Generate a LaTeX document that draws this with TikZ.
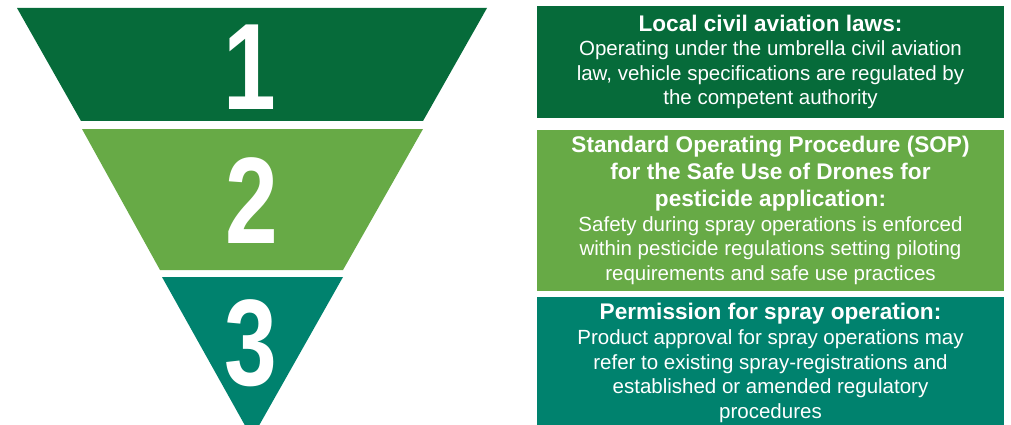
\documentclass[tikz,border=0pt]{standalone}
\usepackage{fontspec}
\setmainfont{Liberation Sans}
\usepackage{tikz}
\usetikzlibrary{positioning}
\definecolor{lawgreen}{RGB}{6,107,58}
\definecolor{sopgreen}{RGB}{103,170,70}
\definecolor{permteal}{RGB}{0,130,110}
\newcommand{\hd}[1]{{\fontsize{22.6}{24.6}\selectfont\bfseries #1}}
\newcommand{\digit}[1]{\scalebox{0.77}[1]{#1}}

\begin{document}
\begin{tikzpicture}[x=1pt,y=-1pt,
  num/.style={text=white,font=\fontsize{123}{123}\selectfont\bfseries,anchor=base,inner sep=0pt},
  panel/.style={text=white,font=\fontsize{20.5}{24.6}\selectfont,align=center,minimum width=467pt,inner sep=0pt}]
  \useasboundingbox (0,0) rectangle (1011,425);
  % funnel: three stacked bands
  \fill[lawgreen] (17,8) -- (487,8) -- (423,121) -- (81,121) -- cycle;
  \fill[sopgreen] (82,129) -- (423,129) -- (343,270) -- (160,270) -- cycle;
  \fill[permteal] (162,277) -- (343,277) -- (252,438) -- cycle;
  \node[num] (n1) at (250,110) {\digit{1}};
  \node[num] (n2) at (252,243) {\digit{2}};
  \node[num] (n3) at (251,385) {\digit{3}};
  % text panels
  \node[panel,fill=lawgreen,minimum height=112pt] (law) at (770.5,62)
    {\hd{Local civil aviation laws:}\\ Operating under the umbrella civil aviation\\ law, vehicle specifications are regulated by\\ the competent authority};
  \node[panel,fill=sopgreen,minimum height=161pt] (sop) at (770.5,210.5)
    {\hd{Standard Operating Procedure (SOP)}\\[2.5pt] \hd{for the Safe Use of Drones for}\\[2.5pt] \hd{pesticide application:}\\ Safety during spray operations is enforced\\ within pesticide regulations setting piloting\\ requirements and safe use practices};
  \node[panel,fill=permteal,minimum height=132pt] (perm) at (770.5,363)
    {\hd{Permission for spray operation:}\\ Product approval for spray operations may\\ refer to existing spray-registrations and\\ established or amended regulatory\\ procedures};
\end{tikzpicture}
\end{document}
